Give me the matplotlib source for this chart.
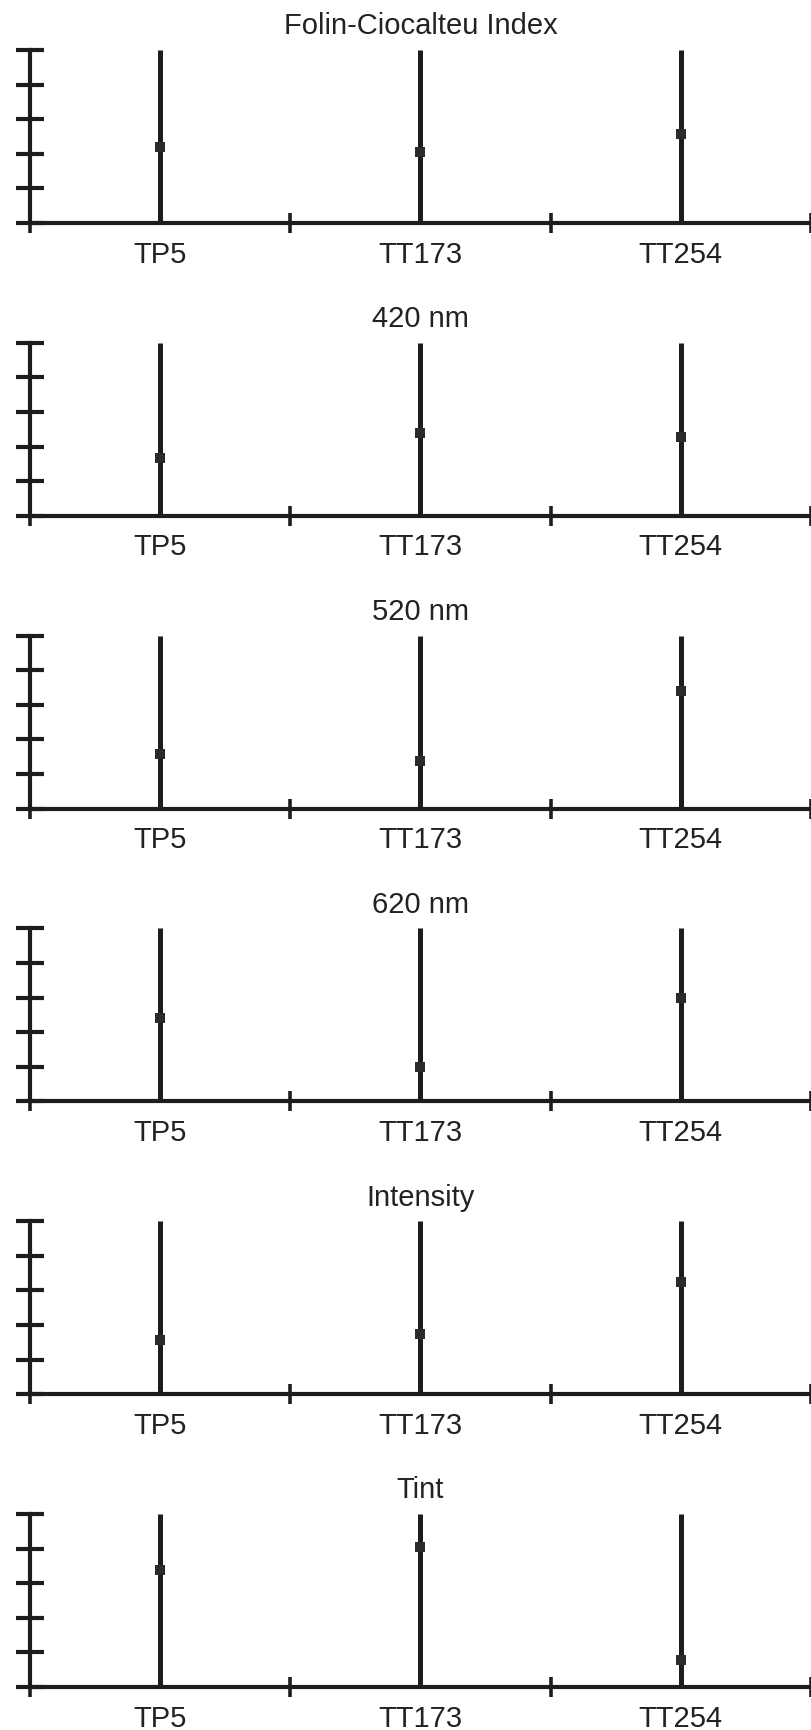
import matplotlib
matplotlib.use('Agg')
import matplotlib.pyplot as plt

# sample names and the six measured parameters (y axis has no labels, 0-5 scale)
samples = ['TP5', 'TT173', 'TT254']
titles = ['Folin-Ciocalteu Index', '420 nm', '520 nm', '620 nm', 'Intensity', 'Tint']

folin = [2.19, 2.06, 2.56]
nm420 = [1.66, 2.39, 2.29]
nm520 = [1.57, 1.39, 3.41]
nm620 = [2.42, 1.00, 2.98]
intensity = [1.57, 1.75, 3.23]
tint = [3.38, 4.05, 0.78]

panels = [folin, nm420, nm520, nm620, intensity, tint]

plt.rcParams['font.family'] = ['Liberation Sans Narrow', 'Liberation Sans', 'DejaVu Sans']

ink = '#1d1d1f'
W, H = 812, 1731
fig = plt.figure(figsize=(W / 100, H / 100), dpi=100)

# layout in pixels: first axes bottom at 224 px from top, panels 292.8 px apart
ax_h = 173
first_bottom = 224
step = 292.8
left_px = 30
width_px = 781

for i, (vals, title) in enumerate(zip(panels, titles)):
    bottom_px = first_bottom + i * step
    ax = fig.add_axes([left_px / W, 1 - bottom_px / H, width_px / W, ax_h / H])

    xs = [k + 0.5 for k in range(len(samples))]
    ax.vlines(xs, 0, 5, color=ink, linewidth=3.6, capstyle='butt')
    ax.plot(xs, vals, linestyle='none', marker='s', markersize=6.5,
            color='#2b2b2d', markeredgewidth=0, zorder=3)

    ax.set_xlim(0, 3)
    ax.set_ylim(0, 5)

    for side in ['top', 'right']:
        ax.spines[side].set_visible(False)
    for side in ['left', 'bottom']:
        ax.spines[side].set_linewidth(3.0)
        ax.spines[side].set_color(ink)

    ax.set_yticks(range(6))
    ax.set_yticklabels([])
    ax.tick_params(axis='y', direction='inout', length=20, width=3.0, color=ink)

    ax.set_xticks([0, 1, 2, 3])
    ax.set_xticklabels([])
    ax.set_xticks(xs, minor=True)
    ax.set_xticklabels(samples, minor=True)
    ax.tick_params(axis='x', which='major', direction='inout', length=14, width=2.6, color=ink)
    ax.tick_params(axis='x', which='minor', length=0, pad=12, labelsize=21, labelcolor='#222222')

    ax.set_title(title, fontsize=21, color='#222222', pad=12)

    for sp in ax.spines.values():
        sp.set_clip_on(False)

fig.savefig('out.png', dpi=100)
